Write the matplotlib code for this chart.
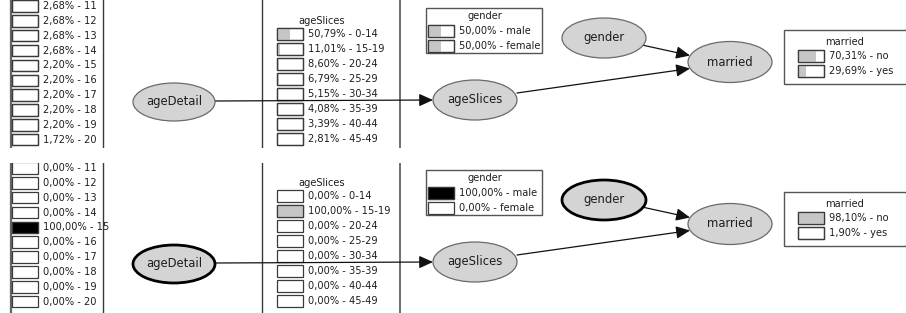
import matplotlib
matplotlib.use('Agg')
import matplotlib.pyplot as plt
from matplotlib.patches import Ellipse, Rectangle, FancyArrowPatch

# ---------------- data ----------------
age_detail_labels = ['11', '12', '13', '14', '15', '16', '17', '18', '19', '20']
age_detail_prior = [2.68, 2.68, 2.68, 2.68, 2.20, 2.20, 2.20, 2.20, 2.20, 1.72]
age_detail_post = [0.0, 0.0, 0.0, 0.0, 100.0, 0.0, 0.0, 0.0, 0.0, 0.0]

age_slices_labels = ['0-14', '15-19', '20-24', '25-29', '30-34', '35-39', '40-44', '45-49']
age_slices_prior = [50.79, 11.01, 8.60, 6.79, 5.15, 4.08, 3.39, 2.81]
age_slices_post = [0.0, 100.0, 0.0, 0.0, 0.0, 0.0, 0.0, 0.0]

gender_labels = ['male', 'female']
gender_prior = [50.00, 50.00]
gender_post = [100.00, 0.00]

married_labels = ['no', 'yes']
married_prior = [70.31, 29.69]
married_post = [98.10, 1.90]

node_names = ['ageDetail', 'ageSlices', 'gender', 'married']
edges = [('ageDetail', 'ageSlices'), ('gender', 'married'), ('ageSlices', 'married')]

# ---------------- layout ----------------
W, H = 906, 313
fig = plt.figure(figsize=(W / 100, H / 100), dpi=100)
fig.patch.set_facecolor('white')

TXT = '#1e1e1e'
GRAY_FILL = '#c6c6c6'
NODE_FILL = '#d4d4d4'
LINE = '#3a3a3a'
FS = 7.1
NFS = 8.4

node_pos = {'ageDetail': (174, 102, 82, 38),
            'ageSlices': (475, 100, 84, 40),
            'gender': (604, 38, 84, 40),
            'married': (730, 62, 84, 41)}


def fmt(v):
    return ('%.2f' % v).replace('.', ',') + '%'


def bars(ax, x0, ys, vals, labels, evidence, bw=26, bh=11.5):
    for y, v, lab in zip(ys, vals, labels):
        ax.add_patch(Rectangle((x0, y - bh / 2), bw, bh, facecolor='white',
                               edgecolor=LINE, lw=0.9, zorder=3))
        if v > 0:
            ax.add_patch(Rectangle((x0, y - bh / 2), bw * v / 100.0, bh,
                                   facecolor='black' if evidence else GRAY_FILL,
                                   edgecolor='none', zorder=4))
            ax.add_patch(Rectangle((x0, y - bh / 2), bw, bh, facecolor='none',
                                   edgecolor=LINE, lw=0.9, zorder=5))
        ax.text(x0 + bw + 5, y, '%s - %s' % (fmt(v), lab), fontsize=FS, color=TXT,
                va='center', ha='left', zorder=6)


def panel(ax, ad, asl, gd, mr, evidence):
    # list box borders (large boxes cut by the view)
    ax.plot([9.5, 9.5], [-10, 200], color='#666666', lw=0.9, zorder=2)
    ax.plot([11.3, 11.3], [-10, 200], color='#666666', lw=0.9, zorder=2)
    ax.plot([103, 103], [-10, 200], color=LINE, lw=1.0, zorder=2)
    ax.plot([262, 262], [-10, 200], color=LINE, lw=1.0, zorder=2)
    ax.plot([400, 400], [-10, 200], color='#555555', lw=1.2, zorder=2)

    # ageDetail list
    ys = [6 + 14.85 * i for i in range(len(age_detail_labels))]
    bars(ax, 12, ys, ad, age_detail_labels, 'ageDetail' in evidence)

    # ageSlices list
    ax.text(322, 21, 'ageSlices', fontsize=FS, color=TXT, ha='center', va='center')
    ys = [34 + 15.0 * i for i in range(len(age_slices_labels))]
    bars(ax, 277, ys, asl, age_slices_labels, 'ageSlices' in evidence)

    # gender box
    ax.add_patch(Rectangle((426, 8), 116, 45, facecolor='white', edgecolor='#555555',
                           lw=1.0, zorder=2))
    ax.text(485, 16, 'gender', fontsize=FS, color=TXT, ha='center', va='center')
    bars(ax, 428, [31, 46], gd, gender_labels, 'gender' in evidence)

    # married box
    ax.add_patch(Rectangle((784, 30), 140, 54, facecolor='white', edgecolor='#555555',
                           lw=1.0, zorder=2))
    ax.text(845, 42, 'married', fontsize=FS, color=TXT, ha='center', va='center')
    bars(ax, 798, [56, 71], mr, married_labels, 'married' in evidence)

    # nodes
    for n in node_names:
        cx, cy, w, h = node_pos[n]
        ev = n in evidence
        ax.add_patch(Ellipse((cx, cy), w, h, facecolor=NODE_FILL,
                             edgecolor='black' if ev else '#6a6a6a',
                             lw=2.0 if ev else 0.9, zorder=8))
        ax.text(cx, cy, n, fontsize=NFS, color=TXT, ha='center', va='center', zorder=9)

    # edges
    pts = {('ageDetail', 'ageSlices'): ((215, 101), (433, 100)),
           ('gender', 'married'): ((642, 45), (690, 55.5)),
           ('ageSlices', 'married'): ((517, 93), (690, 68.5))}
    for e in edges:
        p0, p1 = pts[e]
        ax.add_patch(FancyArrowPatch(p0, p1, arrowstyle='-|>,head_length=0.42,head_width=0.19',
                                     mutation_scale=20, color='#111111', lw=0.9,
                                     shrinkA=0, shrinkB=0, zorder=7))


ax1 = fig.add_axes([0, 1 - 148 / H, 1, 148 / H])
ax1.set_xlim(0, W)
ax1.set_ylim(148, 0)
ax1.axis('off')
panel(ax1, age_detail_prior, age_slices_prior, gender_prior, married_prior, [])

ax2 = fig.add_axes([0, 0, 1, 150 / H])
ax2.set_xlim(0, W)
ax2.set_ylim(151, 1)
ax2.axis('off')
panel(ax2, age_detail_post, age_slices_post, gender_post, married_post, ['ageDetail', 'gender'])

fig.savefig('out.png', dpi=100, facecolor='white')
